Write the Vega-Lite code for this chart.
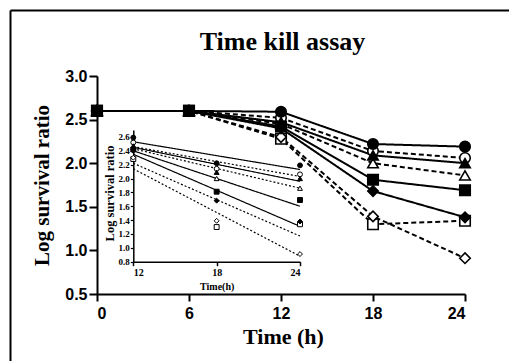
{
  "$schema": "https://vega.github.io/schema/vega-lite/v6.json",
  "width": 499,
  "height": 351,
  "autosize": {"type": "none"},
  "padding": {"left": 10, "top": 10, "right": 0, "bottom": 0},
  "background": "white",
  "config": {
    "view": {"stroke": null},
    "axis": {"labelColor": "black", "titleColor": "black", "domainColor": "black", "tickColor": "black", "grid": false, "labelOverlap": false}
  },
  "title": {
    "text": "Time kill assay",
    "font": "Liberation Serif",
    "fontSize": 26,
    "fontWeight": "bold",
    "color": "black",
    "anchor": "middle",
    "frame": "group",
    "offset": 0,
    "baseline": "alphabetic",
    "dx": 23,
    "dy": 66
  },
  "datasets": {
    "main": [
      {"series": "S8", "t": 0, "v": 2.6}, {"series": "S8", "t": 6, "v": 2.6}, {"series": "S8", "t": 12, "v": 2.28}, {"series": "S8", "t": 18, "v": 1.3}, {"series": "S8", "t": 24, "v": 1.34},
      {"series": "S7", "t": 0, "v": 2.6}, {"series": "S7", "t": 6, "v": 2.6}, {"series": "S7", "t": 12, "v": 2.3}, {"series": "S7", "t": 18, "v": 1.39}, {"series": "S7", "t": 24, "v": 0.91},
      {"series": "S4", "t": 0, "v": 2.6}, {"series": "S4", "t": 6, "v": 2.6}, {"series": "S4", "t": 12, "v": 2.45}, {"series": "S4", "t": 18, "v": 2.0}, {"series": "S4", "t": 24, "v": 1.86},
      {"series": "S2", "t": 0, "v": 2.6}, {"series": "S2", "t": 6, "v": 2.6}, {"series": "S2", "t": 12, "v": 2.52}, {"series": "S2", "t": 18, "v": 2.14}, {"series": "S2", "t": 24, "v": 2.06},
      {"series": "S6", "t": 0, "v": 2.6}, {"series": "S6", "t": 6, "v": 2.6}, {"series": "S6", "t": 12, "v": 2.4}, {"series": "S6", "t": 18, "v": 1.68}, {"series": "S6", "t": 24, "v": 1.38},
      {"series": "S3", "t": 0, "v": 2.6}, {"series": "S3", "t": 6, "v": 2.6}, {"series": "S3", "t": 12, "v": 2.47}, {"series": "S3", "t": 18, "v": 2.09}, {"series": "S3", "t": 24, "v": 2.0},
      {"series": "S1", "t": 0, "v": 2.6}, {"series": "S1", "t": 6, "v": 2.6}, {"series": "S1", "t": 12, "v": 2.59}, {"series": "S1", "t": 18, "v": 2.22}, {"series": "S1", "t": 24, "v": 2.19},
      {"series": "S5", "t": 0, "v": 2.6}, {"series": "S5", "t": 6, "v": 2.6}, {"series": "S5", "t": 12, "v": 2.42}, {"series": "S5", "t": 18, "v": 1.81}, {"series": "S5", "t": 24, "v": 1.69}
    ],
    "fit": [
      {"series": "S1", "t": 12, "v": 2.53}, {"series": "S1", "t": 24, "v": 2.13},
      {"series": "S2", "t": 12, "v": 2.46}, {"series": "S2", "t": 24, "v": 2.03},
      {"series": "S3", "t": 12, "v": 2.45}, {"series": "S3", "t": 24, "v": 1.96},
      {"series": "S4", "t": 12, "v": 2.43}, {"series": "S4", "t": 24, "v": 1.86},
      {"series": "S5", "t": 12, "v": 2.4}, {"series": "S5", "t": 24, "v": 1.6},
      {"series": "S6", "t": 12, "v": 2.35}, {"series": "S6", "t": 24, "v": 1.31},
      {"series": "S8", "t": 12, "v": 2.22}, {"series": "S8", "t": 24, "v": 1.17},
      {"series": "S7", "t": 12, "v": 2.14}, {"series": "S7", "t": 24, "v": 0.88}
    ]
  },
  "layer": [
    {
      "data": {"name": "main"},
      "mark": {"type": "point", "opacity": 0},
      "encoding": {
        "x": {"field": "t", "type": "quantitative", "scale": {"domain": [0, 24]},
          "axis": {"orient": "top", "domain": true, "domainWidth": 2, "ticks": false, "labels": false, "title": null}},
        "y": {"field": "v", "type": "quantitative", "scale": {"domain": [0, 3]},
          "axis": {"orient": "left", "domain": true, "domainWidth": 2, "ticks": false, "labels": false, "title": null}}
      }
    },
    {
      "data": {"name": "main"},
      "layer": [
        {
          "mark": {"type": "line", "strokeWidth": 2, "color": "black"},
          "encoding": {
            "x": {"field": "t", "type": "quantitative",
              "scale": {"domain": [0, 24], "range": [87, 455], "nice": false, "zero": false},
              "axis": {"orient": "bottom", "offset": -67, "values": [0, 6, 12, 18, 24], "domainWidth": 2, "tickWidth": 2, "tickSize": 7,
                "labelFont": "Liberation Sans", "labelFontWeight": "bold", "labelFontSize": 16, "labelPadding": 4,
                "title": "Time (h)", "titleFont": "Liberation Serif", "titleFontSize": 22, "titleFontWeight": "bold",
                "titleBaseline": "alphabetic", "titleX": 273, "titleY": 49}},
            "y": {"field": "v", "type": "quantitative",
              "scale": {"domain": [0.5, 3], "range": [284, 66], "nice": false, "zero": false},
              "axis": {"orient": "left", "offset": -87, "values": [0.5, 1, 1.5, 2, 2.5, 3], "format": ".1f", "domainWidth": 2, "tickWidth": 2, "tickSize": 8,
                "labelFont": "Liberation Sans", "labelFontWeight": "bold", "labelFontSize": 16, "labelPadding": 2,
                "title": "Log survival ratio", "titleFont": "Liberation Serif", "titleFontSize": 21, "titleFontWeight": "bold",
                "titleAngle": -90, "titleBaseline": "alphabetic", "titleX": -49, "titleY": 175}},
            "detail": {"field": "series"},
            "strokeDash": {"field": "series", "type": "nominal",
              "scale": {"domain": ["S1", "S2", "S3", "S4", "S5", "S6", "S7", "S8"], "range": [[1, 0], [5, 3], [1, 0], [5, 3], [1, 0], [1, 0], [5, 3], [5, 3]]},
              "legend": null}
          }
        },
        {
          "mark": {"type": "point", "filled": true, "size": 110, "stroke": "black", "strokeWidth": 1.6, "opacity": 1},
          "encoding": {
            "x": {"field": "t", "type": "quantitative", "scale": {"domain": [0, 24], "range": [87, 455], "nice": false, "zero": false}},
            "y": {"field": "v", "type": "quantitative", "scale": {"domain": [0.5, 3], "range": [284, 66], "nice": false, "zero": false}},
            "shape": {"field": "series", "type": "nominal",
              "scale": {"domain": ["S1", "S2", "S3", "S4", "S5", "S6", "S7", "S8"], "range": ["circle", "circle", "triangle-up", "triangle-up", "square", "diamond", "diamond", "square"]},
              "legend": null},
            "fill": {"field": "series", "type": "nominal",
              "scale": {"domain": ["S1", "S2", "S3", "S4", "S5", "S6", "S7", "S8"], "range": ["black", "white", "black", "white", "black", "black", "white", "white"]},
              "legend": null}
          }
        }
      ]
    },
    {
      "layer": [
        {
          "data": {"name": "fit"},
          "mark": {"type": "line", "strokeWidth": 1.2, "color": "black"},
          "encoding": {
            "x": {"field": "t", "type": "quantitative",
              "scale": {"domain": [12, 24], "range": [123.3, 290], "nice": false, "zero": false},
              "axis": {"orient": "bottom", "offset": -99.3, "values": [12, 18, 24], "domainWidth": 1.5, "tickWidth": 1.5, "tickSize": 4,
                "labelFont": "Liberation Sans Narrow", "labelFontWeight": "bold", "labelFontSize": 10, "labelPadding": 2,
                "title": "Time(h)", "titleFont": "Liberation Serif", "titleFontSize": 10, "titleFontWeight": "bold",
                "titleBaseline": "alphabetic", "titleX": 206.7, "titleY": 28}},
            "y": {"field": "v", "type": "quantitative",
              "scale": {"domain": [0.8, 2.7], "range": [251.7, 120], "nice": false, "zero": false},
              "axis": {"orient": "left", "offset": -123.3, "values": [0.8, 1.0, 1.2, 1.4, 1.6, 1.8, 2.0, 2.2, 2.4, 2.6], "format": ".1f",
                "domainWidth": 1.5, "tickWidth": 1.2, "tickSize": 3, "labelOverlap": false, "labelBound": false, "labelFlush": false,
                "labelFont": "Liberation Sans Narrow", "labelFontWeight": "bold", "labelFontSize": 9, "labelPadding": 1,
                "title": "Log survival ratio", "titleFont": "Liberation Serif", "titleFontSize": 12.5, "titleFontWeight": "bold",
                "titleAngle": -90, "titleBaseline": "alphabetic", "titleX": -20, "titleY": 183}},
            "detail": {"field": "series"},
            "strokeDash": {"field": "series", "type": "nominal",
              "scale": {"domain": ["S1", "S2", "S3", "S4", "S5", "S6", "S7", "S8"], "range": [[1, 0], [2, 2], [1, 0], [2, 2], [1, 0], [1, 0], [2, 2], [2, 2]]},
              "legend": null}
          }
        },
        {
          "data": {"name": "main"},
          "transform": [{"filter": "datum.t >= 12"}],
          "mark": {"type": "point", "filled": true, "size": 24, "stroke": "black", "strokeWidth": 1, "opacity": 1},
          "encoding": {
            "x": {"field": "t", "type": "quantitative", "scale": {"domain": [12, 24], "range": [123.3, 290], "nice": false, "zero": false}},
            "y": {"field": "v", "type": "quantitative", "scale": {"domain": [0.8, 2.7], "range": [251.7, 120], "nice": false, "zero": false},
              "axis": {"orient": "left", "offset": -123.3, "values": [0.8, 1.0, 1.2, 1.4, 1.6, 1.8, 2.0, 2.2, 2.4, 2.6], "format": ".1f",
                "domainWidth": 1.5, "tickWidth": 1.2, "tickSize": 3, "labelOverlap": false, "labelBound": false, "labelFlush": false,
                "labelFont": "Liberation Sans Narrow", "labelFontWeight": "bold", "labelFontSize": 9, "labelPadding": 1,
                "title": "Log survival ratio", "titleFont": "Liberation Serif", "titleFontSize": 12.5, "titleFontWeight": "bold",
                "titleAngle": -90, "titleBaseline": "alphabetic", "titleX": -20, "titleY": 183}},
            "shape": {"field": "series", "type": "nominal",
              "scale": {"domain": ["S1", "S2", "S3", "S4", "S5", "S6", "S7", "S8"], "range": ["circle", "circle", "triangle-up", "triangle-up", "square", "diamond", "diamond", "square"]},
              "legend": null},
            "fill": {"field": "series", "type": "nominal",
              "scale": {"domain": ["S1", "S2", "S3", "S4", "S5", "S6", "S7", "S8"], "range": ["black", "white", "black", "white", "black", "black", "white", "white"]},
              "legend": null}
          }
        }
      ]
    }
  ],
  "resolve": {
    "scale": {"x": "independent", "y": "independent", "strokeDash": "independent"},
    "axis": {"x": "independent", "y": "independent"}
  }
}
